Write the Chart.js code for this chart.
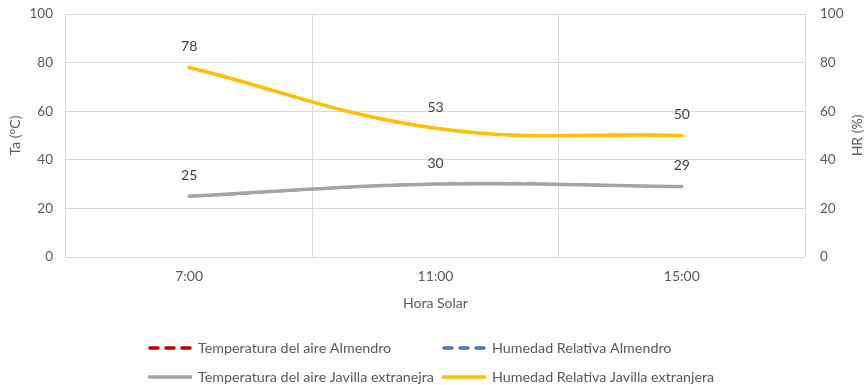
<!DOCTYPE html>
<html>
<head>
<meta charset="utf-8">
<script src="https://cdn.jsdelivr.net/npm/chart.js@4.4.1/dist/chart.umd.min.js"></script>
<style>
  html, body { margin: 0; padding: 0; background: #fff; }
  #wrap { width: 868px; height: 385px; position: relative; }
</style>
</head>
<body>
<div id="wrap"><canvas id="c"></canvas></div>
<script>
// Hourly readings (solar time)
const horas = ['7:00', '11:00', '15:00'];
const tempAlmendro = [25, 30, 29];
const humAlmendro = [78, 53, 50];
const tempJavilla = [25, 30, 29];
const humJavilla = [78, 53, 50];
const yTicks = [0, 20, 40, 60, 80, 100];

const FONT = 'Lato, "Liberation Sans", sans-serif';
const TEXT = '#595959';
const GRID = '#d9d9d9';
const CLEAR = 'rgba(0,0,0,0)';

// Value labels above the Javilla series points
const valueLabels = {
  id: 'valueLabels',
  afterDatasetsDraw(chart) {
    const ctx = chart.ctx;
    ctx.save();
    ctx.font = '14px ' + FONT;
    ctx.fillStyle = '#404040';
    ctx.textAlign = 'center';
    ctx.textBaseline = 'middle';
    chart.data.datasets.forEach((ds, i) => {
      if (!ds.showValues) return;
      const meta = chart.getDatasetMeta(i);
      meta.data.forEach((pt, j) => {
        ctx.fillText(String(ds.data[j]), pt.x, pt.y - 21);
      });
    });
    ctx.restore();
  }
};

// Right-hand axis title, reading bottom to top like the left one
const rightTitle = {
  id: 'rightTitle',
  afterDraw(chart) {
    const ctx = chart.ctx;
    const s = chart.scales.y1;
    ctx.save();
    ctx.font = '14px ' + FONT;
    ctx.fillStyle = TEXT;
    ctx.textAlign = 'center';
    ctx.textBaseline = 'middle';
    ctx.translate(s.right - 11, (s.top + s.bottom) / 2);
    ctx.rotate(-Math.PI / 2);
    ctx.fillText('HR (%)', 0, 0);
    ctx.restore();
  }
};

// Two-row legend below the axis title
const legendRows = {
  id: 'legendRows',
  afterDraw(chart) {
    const ctx = chart.ctx;
    const ds = chart.data.datasets;
    const cols = [148, 442];
    const rows = [348, 377];
    ctx.save();
    ctx.font = '14.3px ' + FONT;
    ctx.textBaseline = 'middle';
    ctx.textAlign = 'left';
    ds.forEach((d, idx) => {
      const x = cols[idx % 2];
      const y = rows[Math.floor(idx / 2)];
      const dashed = d.borderDash && d.borderDash.length;
      ctx.beginPath();
      ctx.strokeStyle = d.borderColor;
      ctx.lineWidth = 3.5;
      ctx.lineCap = dashed ? 'round' : 'butt';
      ctx.setLineDash(dashed ? [8, 8] : []);
      ctx.moveTo(dashed ? x + 2 : x, y);
      ctx.lineTo(x + 44, y);
      ctx.stroke();
      ctx.setLineDash([]);
      ctx.fillStyle = TEXT;
      ctx.fillText(d.label, x + 50, y);
    });
    ctx.restore();
  }
};

new Chart(document.getElementById('c'), {
  type: 'line',
  data: {
    labels: horas,
    datasets: [
      {
        label: 'Temperatura del aire Almendro',
        data: tempAlmendro,
        yAxisID: 'y',
        borderColor: '#c00000',
        borderWidth: 2.5,
        borderDash: [8, 5],
        order: 3
      },
      {
        label: 'Humedad Relativa Almendro',
        data: humAlmendro,
        yAxisID: 'y1',
        borderColor: '#4472c4',
        borderWidth: 2.5,
        borderDash: [8, 5],
        order: 4
      },
      {
        label: 'Temperatura del aire Javilla extranejra',
        data: tempJavilla,
        yAxisID: 'y',
        borderColor: '#a5a5a5',
        borderWidth: 3.5,
        showValues: true,
        order: 1
      },
      {
        label: 'Humedad Relativa Javilla extranjera',
        data: humJavilla,
        yAxisID: 'y1',
        borderColor: '#ffc000',
        borderWidth: 3.5,
        showValues: true,
        order: 2
      }
    ]
  },
  options: {
    responsive: true,
    maintainAspectRatio: false,
    animation: false,
    events: [],
    elements: {
      point: { radius: 0 },
      line: { tension: 0.4, fill: false, borderCapStyle: 'round' }
    },
    layout: { padding: { top: 14, left: 0, right: 0, bottom: 69 } },
    plugins: { legend: { display: false }, tooltip: { enabled: false } },
    scales: {
      x: {
        offset: true,
        afterFit(scale) { scale.height = 59; },
        grid: { offset: true, color: GRID, lineWidth: 1, drawTicks: false },
        border: { display: false },
        ticks: { color: TEXT, font: { family: FONT, size: 14 }, padding: 11 },
        title: {
          display: true, text: 'Hora Solar', color: TEXT,
          font: { family: FONT, size: 14 }, padding: { top: 4, bottom: 4 }
        }
      },
      y: {
        position: 'left',
        min: 0, max: 100,
        afterBuildTicks(scale) { scale.ticks = yTicks.map(v => ({ value: v })); },
        afterFit(scale) { scale.width = 66; },
        grid: { color: GRID, lineWidth: 1, drawTicks: true, tickLength: 13, tickColor: CLEAR },
        border: { display: false },
        ticks: { color: TEXT, font: { family: FONT, size: 13.5 }, padding: 0 },
        title: {
          display: true, text: 'Ta (°C)', color: TEXT,
          font: { family: FONT, size: 14 }, padding: { top: 7, bottom: 0 }
        }
      },
      y1: {
        position: 'right',
        min: 0, max: 100,
        afterBuildTicks(scale) { scale.ticks = yTicks.map(v => ({ value: v })); },
        afterFit(scale) { scale.width = 63; },
        grid: { display: false, drawTicks: true, tickLength: 15, tickColor: CLEAR },
        border: { display: false },
        ticks: { color: TEXT, font: { family: FONT, size: 13.5 }, padding: 0 },
        title: { display: false }
      }
    }
  },
  plugins: [valueLabels, rightTitle, legendRows]
});
</script>
</body>
</html>
